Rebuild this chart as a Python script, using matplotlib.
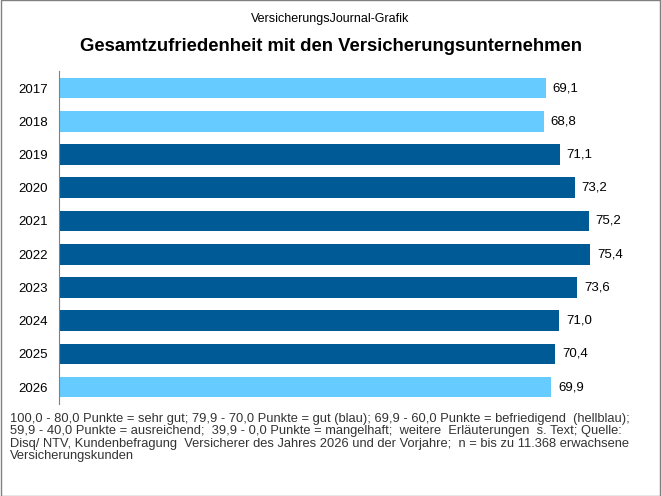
import matplotlib.pyplot as plt
from matplotlib.patches import Rectangle

years = ["2017", "2018", "2019", "2020", "2021", "2022", "2023", "2024", "2025", "2026"]
values = [69.1, 68.8, 71.1, 73.2, 75.2, 75.4, 73.6, 71.0, 70.4, 69.9]
grades = ["hell", "hell", "blau", "blau", "blau", "blau", "blau", "blau", "blau", "hell"]

LIGHT = "#66CCFF"
DARK = "#005A96"

fig = plt.figure(figsize=(6.61, 4.96), dpi=100)
fig.patches.append(Rectangle((0.001, 0.001), 0.998, 0.998, transform=fig.transFigure,
                             fill=False, edgecolor="#808080", linewidth=1))
ax = fig.add_axes([0.089, 0.186, 0.89, 0.67])

colors = [LIGHT if g == "hell" else DARK for g in grades]
ypos = range(len(years))
ax.barh(ypos, values, height=0.62, color=colors)
for y, v in zip(ypos, values):
    ax.text(v + 1, y, f"{v:.1f}".replace(".", ","), va="center", ha="left", fontsize=9.5,
            family="Liberation Sans")

ax.set_xlim(0, 83.5)
ax.set_ylim(len(years) - 0.5, -0.5)
ax.set_yticks(list(ypos))
ax.set_yticklabels(years, fontsize=9.5, family="Liberation Sans")
ax.set_xticks([])
ax.tick_params(axis="y", length=0, pad=8)
for s in ["top", "right", "bottom"]:
    ax.spines[s].set_visible(False)
ax.spines["left"].set_color("#808080")

fig.text(0.5, 0.962, "VersicherungsJournal-Grafik", ha="center", va="center",
         fontsize=9, family="Liberation Sans")
fig.text(0.5, 0.907, "Gesamtzufriedenheit mit den Versicherungsunternehmen", ha="center",
         va="center", fontsize=13.3, fontweight="bold", family="Liberation Sans")
note = ("100,0 - 80,0 Punkte = sehr gut; 79,9 - 70,0 Punkte = gut (blau); 69,9 - 60,0 Punkte = befriedigend  (hellblau);\n"
        "59,9 - 40,0 Punkte = ausreichend;  39,9 - 0,0 Punkte = mangelhaft;  weitere  Erläuterungen  s. Text; Quelle:\n"
        "Disq/ NTV, Kundenbefragung  Versicherer des Jahres 2026 und der Vorjahre;  n = bis zu 11.368 erwachsene\n"
        "Versicherungskunden")
fig.text(0.015, 0.168, note, ha="left", va="top", fontsize=9.3, color="#333333",
         family="Liberation Sans", linespacing=1.05)

fig.savefig("out.png", dpi=100)
